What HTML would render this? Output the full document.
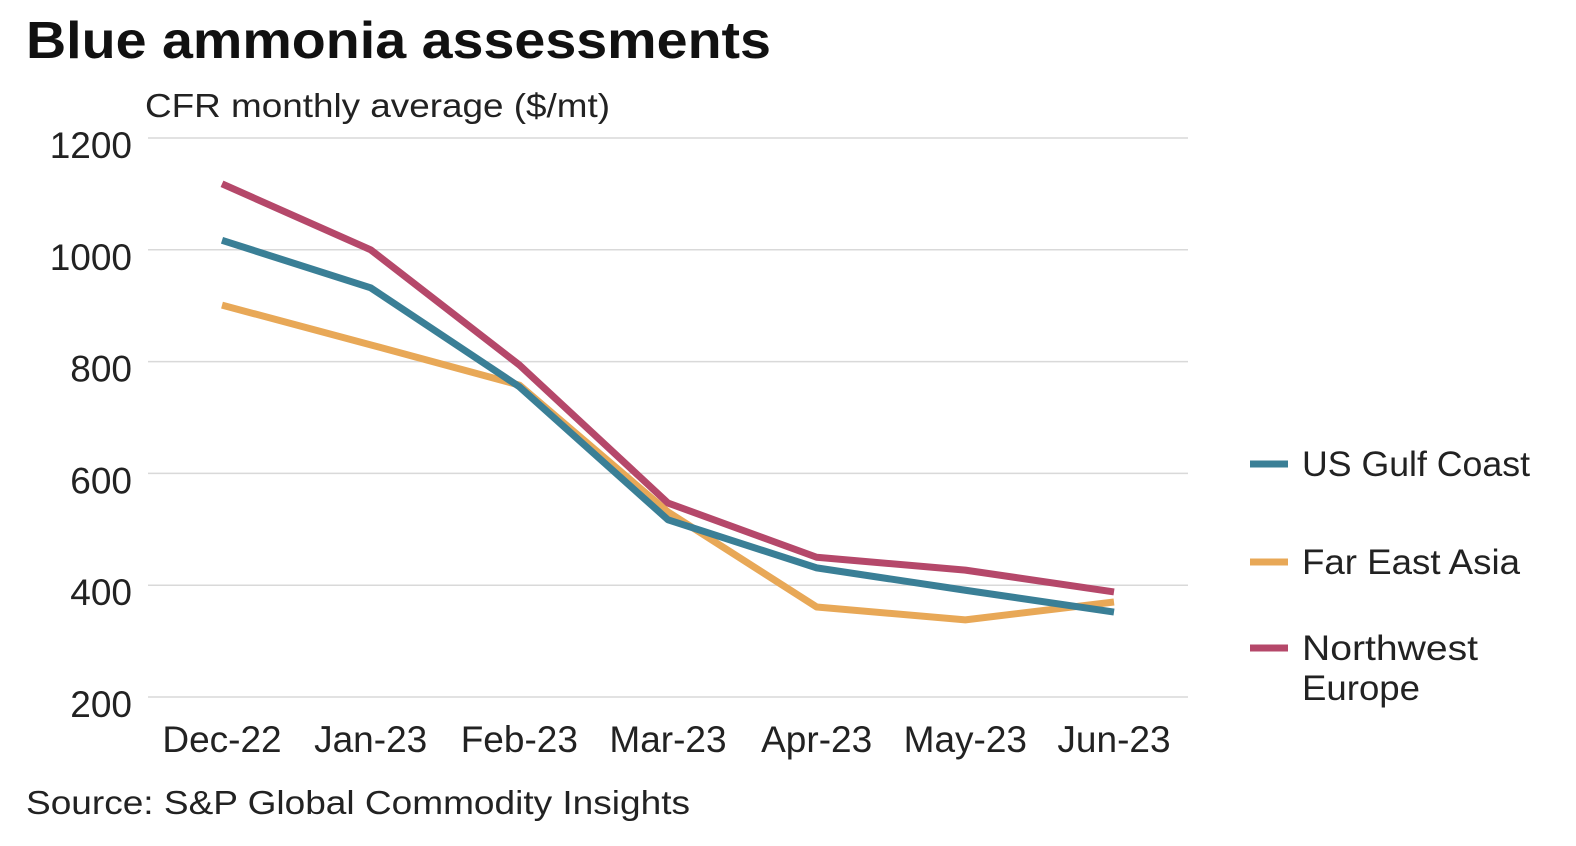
<!DOCTYPE html>
<html><head><meta charset="utf-8"><style>
html,body{margin:0;padding:0;background:#fff;}
svg{display:block;font-family:"Liberation Sans",sans-serif;}
</style></head><body>
<svg id="chart" width="1576" height="846" viewBox="0 0 1576 846">
<text x="26" y="58" font-size="52" font-weight="bold" fill="#111" textLength="745" lengthAdjust="spacingAndGlyphs">Blue ammonia assessments</text>
<text x="145" y="117" font-size="33" fill="#222" textLength="465" lengthAdjust="spacingAndGlyphs">CFR monthly average ($/mt)</text>
<g id="grid"></g>
<g id="yticks"></g>
<g id="xticks"></g>
<g id="series"></g>
<g id="legend"></g>
<text x="26" y="814" font-size="33" fill="#222" textLength="664" lengthAdjust="spacingAndGlyphs">Source: S&amp;P Global Commodity Insights</text>
</svg>
<script>
const categories=["Dec-22","Jan-23","Feb-23","Mar-23","Apr-23","May-23","Jun-23"];
const yTicks=[200,400,600,800,1000,1200];
const usGulf=[1017,932,755,517,431,391,352];
const farEast=[901,830,758,531,361,338,370];
const nwEurope=[1118,1000,794,547,450,427,388];
const seriesNames=["US Gulf Coast","Far East Asia","Northwest Europe"];
const NS="http://www.w3.org/2000/svg";
const y=v=>697-(v-200)*(559/1000);
const x=i=>222+i*(892/(categories.length-1));
function mk(tag,attrs,parent){const e=document.createElementNS(NS,tag);for(const k in attrs)e.setAttribute(k,attrs[k]);parent.appendChild(e);return e;}
const grid=document.getElementById('grid'),yt=document.getElementById('yticks'),xt=document.getElementById('xticks');
yTicks.forEach(v=>{
 const l=mk('line',{x1:148,x2:1188,y1:y(v),y2:y(v),stroke:'#d9d9d9','stroke-width':1.5},grid);
 
 
 const t=mk('text',{x:132,y:y(v)+20,'text-anchor':'end','font-size':37,fill:'#222'},yt);
 t.textContent=v;
 
 
});
categories.forEach((c,i)=>{
 const t=mk('text',{x:x(i),y:752,'text-anchor':'middle','font-size':37,fill:'#222'},xt);
 t.textContent=c;
 
 
});
const sg=document.getElementById('series');
const data=[[farEast,'#e8a857','far-east-asia'],[usGulf,'#3a7f96','us-gulf-coast'],[nwEurope,'#b5486a','northwest-europe']];
data.forEach(([arr,col,name])=>{
 const p=mk('polyline',{points:arr.map((v,i)=>x(i)+','+y(v)).join(' '),fill:'none',stroke:col,'stroke-width':7,'stroke-linejoin':'round'},sg);
 
 
});
const lg=document.getElementById('legend');
const leg=[['#3a7f96',[['US Gulf Coast',228]],464],['#e8a857',[['Far East Asia',218]],562],['#b5486a',[['Northwest',176],['Europe',118]],648]];
leg.forEach(([col,lines,ly],k)=>{
 const l=mk('line',{x1:1250,x2:1288,y1:ly,y2:ly,stroke:col,'stroke-width':7},lg);
 
 
 lines.forEach(([s,w],j)=>{
  const t=mk('text',{x:1302,y:ly+12+j*40,'font-size':35,fill:'#222',textLength:w,lengthAdjust:'spacingAndGlyphs'},lg);
  t.textContent=s;
  
  
 });
});
</script>
</body></html>
